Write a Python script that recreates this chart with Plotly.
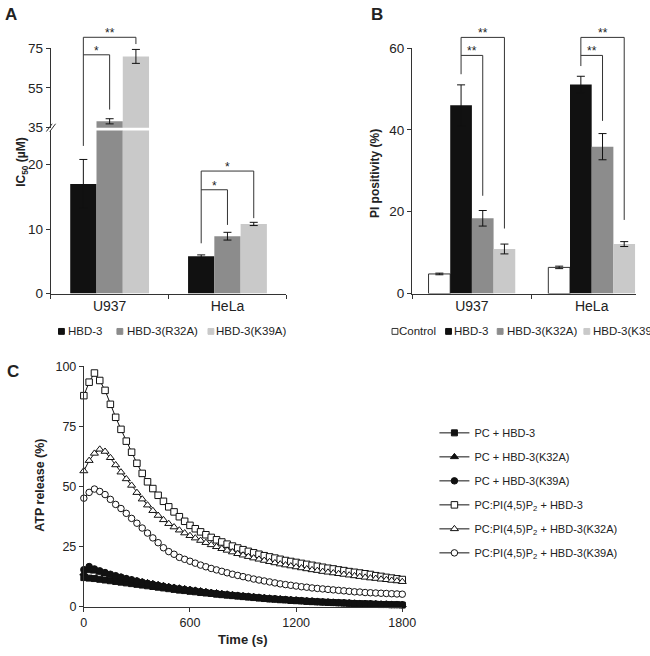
import plotly.graph_objects as go

W, H = 650, 656

# ---------------- data ----------------
cell_lines = ["U937", "HeLa"]

# Panel A: IC50 (uM)
a_hbd3 = [17.0, 5.8]
a_hbd3_err = [3.8, 0.2]
a_r32a = [38.2, 8.9]
a_r32a_err = [1.3, 0.6]
a_k39a = [70.8, 10.8]
a_k39a_err = [3.5, 0.25]
a_names = ["HBD-3", "HBD-3(R32A)", "HBD-3(K39A)"]

# Panel B: PI positivity (%)
b_control = [4.8, 6.4]
b_control_err = [0.2, 0.3]
b_hbd3 = [46.0, 51.1]
b_hbd3_err = [5.0, 2.0]
b_k32a = [18.4, 35.9]
b_k32a_err = [1.9, 3.2]
b_k39a = [10.9, 12.1]
b_k39a_err = [1.2, 0.6]
b_names = ["Control", "HBD-3", "HBD-3(K32A)", "HBD-3(K39A)"]

# Panel C: ATP release (%) sampled every 30 s
time_s = list(range(0, 1801, 30))
pc_hbd3 = [12.2, 12.0, 11.8, 11.5, 11.2, 10.9, 10.6, 10.3, 10.0, 9.7,
           9.4, 9.1, 8.8, 8.5, 8.2, 7.9, 7.6, 7.3, 7.0, 6.8,
           6.5, 6.3, 6.0, 5.8, 5.6, 5.3, 5.1, 4.9, 4.7, 4.5,
           4.3, 4.1, 3.9, 3.7, 3.5, 3.3, 3.2, 3.0, 2.9, 2.7,
           2.6, 2.5, 2.3, 2.2, 2.1, 2.0, 1.9, 1.8, 1.7, 1.6,
           1.5, 1.4, 1.3, 1.3, 1.2, 1.1, 1.0, 1.0, 0.9, 0.9, 0.8]
pc_k32a = [14.0, 15.0, 14.8, 14.3, 13.8, 13.3, 12.8, 12.3, 11.8, 11.3,
           10.8, 10.4, 10.0, 9.6, 9.2, 8.8, 8.4, 8.1, 7.8, 7.5,
           7.2, 6.9, 6.6, 6.3, 6.0, 5.8, 5.5, 5.3, 5.0, 4.8,
           4.6, 4.4, 4.2, 4.0, 3.8, 3.6, 3.4, 3.3, 3.1, 3.0,
           2.8, 2.7, 2.5, 2.4, 2.3, 2.1, 2.0, 1.9, 1.8, 1.7,
           1.6, 1.5, 1.4, 1.4, 1.3, 1.2, 1.1, 1.1, 1.0, 1.0, 0.9]
pc_k39a = [15.5, 16.8, 15.8, 15.0, 14.3, 13.6, 13.0, 12.4, 11.8, 11.3,
           10.8, 10.3, 9.8, 9.4, 9.0, 8.6, 8.2, 7.9, 7.6, 7.3,
           7.0, 6.7, 6.4, 6.1, 5.8, 5.6, 5.3, 5.1, 4.9, 4.7,
           4.5, 4.3, 4.1, 3.9, 3.7, 3.5, 3.4, 3.2, 3.1, 2.9,
           2.8, 2.6, 2.5, 2.4, 2.2, 2.1, 2.0, 1.9, 1.8, 1.7,
           1.6, 1.5, 1.4, 1.3, 1.3, 1.2, 1.1, 1.1, 1.0, 1.0, 0.9]
pip2_hbd3 = [87.8, 93.4, 97.2, 94.1, 90.0, 84.2, 78.8, 73.8, 68.9, 64.3,
             59.7, 55.5, 52.0, 49.2, 46.4, 43.9, 41.6, 39.5, 37.5, 35.6,
             33.9, 32.5, 31.2, 30.0, 28.9, 27.9, 27.0, 26.1, 25.3, 24.5,
             23.8, 23.1, 22.5, 21.9, 21.3, 20.8, 20.3, 19.8, 19.3, 18.9,
             18.5, 18.1, 17.7, 17.3, 16.9, 16.5, 16.1, 15.8, 15.4, 15.1,
             14.7, 14.4, 14.1, 13.8, 13.5, 13.0, 12.7, 12.3, 12.0, 11.7, 11.4]
pip2_k32a = [56.5, 60.8, 63.8, 65.5, 64.6, 62.0, 59.0, 56.0, 53.2, 50.5,
             47.5, 44.8, 42.3, 40.0, 38.0, 36.2, 34.6, 33.2, 31.9, 30.7,
             29.6, 28.6, 27.6, 26.7, 25.8, 25.0, 24.2, 23.5, 22.8, 22.1,
             21.5, 20.9, 20.3, 19.8, 19.3, 18.8, 18.3, 17.8, 17.4, 17.0,
             16.6, 16.2, 15.8, 15.4, 15.1, 14.7, 14.4, 14.1, 13.8, 13.5,
             13.2, 12.9, 12.6, 12.3, 12.0, 11.8, 11.5, 11.3, 11.0, 10.8, 10.5]
pip2_k39a = [45.2, 47.6, 49.0, 48.0, 46.7, 44.7, 42.6, 40.9, 38.9, 36.8,
             34.8, 32.8, 30.7, 28.7, 26.7, 24.6, 23.0, 21.9, 20.6, 19.8,
             19.0, 18.2, 17.4, 16.7, 16.0, 15.4, 14.8, 14.2, 13.6, 13.1,
             12.6, 12.1, 11.6, 11.2, 10.8, 10.4, 10.0, 9.6, 9.3, 9.0,
             8.7, 8.4, 8.2, 7.9, 7.7, 7.5, 7.3, 7.1, 6.9, 6.7,
             6.5, 6.3, 6.2, 6.0, 5.9, 5.8, 5.7, 5.6, 5.5, 5.4, 5.3]
c_names = ["PC + HBD-3", "PC + HBD-3(K32A)", "PC + HBD-3(K39A)",
           "PC:PI(4,5)P<sub>2</sub> + HBD-3",
           "PC:PI(4,5)P<sub>2</sub> + HBD-3(K32A)",
           "PC:PI(4,5)P<sub>2</sub> + HBD-3(K39A)"]

# ---------------- styling ----------------
FONT = "Arial, Liberation Sans, Helvetica, sans-serif"
TXT = "#222222"
AX = "#333333"
BLACK, GRAY, LIGHT = "#111111", "#8c8c8c", "#c9c9c9"
ERR = "#111111"


def PX(x):
    return x / W


def PY(y):
    return 1 - y / H


def ymap(v, dom, rng):
    return dom[0] + (v - rng[0]) / (rng[1] - rng[0]) * (dom[1] - dom[0])


A_xdom = [PX(49), PX(291)]
A_ydom, A_yrng = [PY(293.3), PY(126.5)], [0, (293.3 - 126.5) / 6.6]
A_y2dom, A_y2rng = [PY(123.5), PY(42)], [35, 75]
B_xdom, B_xrng = [PX(420), 1.0], [-0.5, -0.5 + 230 / 123]
B_ydom, B_yrng = [PY(293.3), PY(42)], [0, 60]
C_xdom, C_xrng = [PX(83), PX(410)], [0, 1800]
C_ydom, C_yrng = [PY(614), PY(367.7)], [0, 100]

fig = go.Figure()

# ---------------- Panel A (broken axis: y lower, y2 upper) ----------------
wA = 0.223
a_series = [(a_hbd3, a_hbd3_err, BLACK), (a_r32a, a_r32a_err, GRAY), (a_k39a, a_k39a_err, LIGHT)]
a_offsets = [-1.5 * wA, -0.5 * wA, 0.5 * wA]
for yax in ["y", "y2"]:
    for (vals, errs, col), off, nm in zip(a_series, a_offsets, a_names):
        fig.add_trace(go.Bar(
            x=cell_lines, y=vals, name=nm, width=wA, offset=off,
            marker=dict(color=col, line=dict(width=0)),
            error_y=dict(type="data", array=errs, color=ERR, thickness=1, width=4),
            xaxis="x", yaxis=yax, showlegend=False, hoverinfo="skip"))

# ---------------- Panel B ----------------
wB = 0.181
b_series = [(b_control, b_control_err, "white"), (b_hbd3, b_hbd3_err, BLACK),
            (b_k32a, b_k32a_err, GRAY), (b_k39a, b_k39a_err, LIGHT)]
b_offsets = [-2 * wB, -1 * wB, 0, wB]
for (vals, errs, col), off, nm in zip(b_series, b_offsets, b_names):
    fig.add_trace(go.Bar(
        x=cell_lines, y=vals, name=nm, width=wB, offset=off,
        marker=dict(color=col, line=dict(width=1 if col == "white" else 0, color=AX)),
        error_y=dict(type="data", array=errs, color=ERR, thickness=1, width=4),
        xaxis="x2", yaxis="y3", showlegend=False, hoverinfo="skip"))

# ---------------- Panel C ----------------
c_series = [pc_hbd3, pc_k32a, pc_k39a, pip2_hbd3, pip2_k32a, pip2_k39a]
c_symbols = ["square", "triangle-up", "circle", "square", "triangle-up", "circle"]
c_fill = [BLACK, BLACK, BLACK, "white", "white", "white"]
c_size = [6, 7, 6.5, 6.5, 7, 6.5]
for i, (vals, nm) in enumerate(zip(c_series, c_names)):
    fig.add_trace(go.Scatter(
        x=time_s, y=vals, name=nm, mode="lines+markers",
        line=dict(color=BLACK, width=1),
        marker=dict(symbol=c_symbols[i], size=c_size[i], color=c_fill[i],
                    line=dict(color=BLACK, width=1)),
        xaxis="x3", yaxis="y4", cliponaxis=False, legendgroup=f"g{i}"))


def yaxis(dom, rng, tickvals, anchor, size):
    return dict(domain=dom, range=rng, tickvals=tickvals, anchor=anchor,
                showline=True, linecolor=AX, linewidth=1, ticks="outside",
                ticklen=4, tickcolor=AX, tickfont=dict(size=size, color=TXT, family=FONT),
                showgrid=False, zeroline=False, fixedrange=True)


def xcat(dom, rng, anchor):
    return dict(domain=dom, range=rng, type="category", anchor=anchor,
                showline=True, linecolor=AX, linewidth=1, ticks="outside",
                tickson="boundaries", ticklen=4, tickcolor=AX,
                tickfont=dict(size=14, color=TXT, family=FONT),
                showgrid=False, zeroline=False, fixedrange=True)


# ---------------- brackets ----------------
shapes, annotations = [], []


def seg(xref, x0, y0, x1, y1):
    shapes.append(dict(type="line", xref=xref, yref="paper", x0=x0, y0=y0, x1=x1, y1=y1,
                       line=dict(color=AX, width=1)))


def bracket(xref, xl, xr, ytop, yl, yr, label):
    seg(xref, xl, yl, xl, ytop)
    seg(xref, xl, ytop, xr, ytop)
    seg(xref, xr, ytop, xr, yr)
    annotations.append(dict(xref=xref, yref="paper", x=(xl + xr) / 2, y=ytop, text=label,
                            showarrow=False, yanchor="bottom", yshift=-5,
                            font=dict(size=12, color=TXT, family=FONT)))


def ctr(cat, off, w):
    return cat + off + w / 2


yA = lambda v: ymap(v, A_ydom, A_yrng)
yA2 = lambda v: ymap(v, A_y2dom, A_y2rng)
yB = lambda v: ymap(v, B_ydom, B_yrng)

# A, U937
xl, xr1, xr2 = ctr(0, a_offsets[0], wA), ctr(0, a_offsets[1], wA), ctr(0, a_offsets[2], wA)
bracket("x", xl, xr2, yA2(80.4), yA(22.9), yA2(77.0), "**")
bracket("x", xl, xr1, yA2(71.6), yA2(71.6), yA2(44.1), "*")
# A, HeLa
xl, xr1, xr2 = ctr(1, a_offsets[0], wA), ctr(1, a_offsets[1], wA), ctr(1, a_offsets[2], wA)
bracket("x", xl, xr2, yA(19.0), yA(7.8), yA(11.7), "*")
bracket("x", xl, xr1, yA(16.1), yA(16.1), yA(10.65), "*")
# B
for cat, lb, r1b, r2b in [(0, 53.6, 23.9, 15.9), (1, 55.6, 42.2, 18.0)]:
    xl, xr1, xr2 = ctr(cat, b_offsets[1], wB), ctr(cat, b_offsets[2], wB), ctr(cat, b_offsets[3], wB)
    bracket("x2", xl, xr2, yB(62.6), yB(lb), yB(r2b), "**")
    bracket("x2", xl, xr1, yB(58.2), yB(58.2), yB(r1b), "**")

# axis break marks on panel A
for dx in (0, 3.5):
    shapes.append(dict(type="line", xref="paper", yref="paper",
                       x0=PX(44.5 + dx), y0=PY(127.5), x1=PX(50.5 + dx), y1=PY(119.5),
                       line=dict(color=AX, width=1)))

# ---------------- manual legends for A and B ----------------
def legend_item(cx, cy, fill, label, tx, outline=False):
    shapes.append(dict(type="rect", xref="paper", yref="paper",
                       x0=PX(cx - 3), x1=PX(cx + 3), y0=PY(cy + 3), y1=PY(cy - 3),
                       fillcolor=fill, line=dict(color=AX if outline else fill, width=1)))
    annotations.append(dict(xref="paper", yref="paper", x=PX(tx), y=PY(cy), text=label,
                            showarrow=False, xanchor="left", yanchor="middle",
                            font=dict(size=11.5, color=TXT, family=FONT)))


for cx, col, nm, tx in zip([60, 120, 213.5], [BLACK, GRAY, LIGHT], a_names, [64.5, 125, 216.5]):
    legend_item(cx, 332, col, nm, tx)
for cx, col, nm, tx in zip([402.5, 457.5, 510.5, 599.5], ["white", BLACK, GRAY, LIGHT],
                           b_names, [404.5, 461.5, 515, 603.5]):
    legend_item(cx, 332, col, nm, tx, outline=(col == "white"))

# ---------------- titles / panel letters ----------------
def text(x, y, s, size, bold=True, angle=0):
    annotations.append(dict(xref="paper", yref="paper", x=PX(x), y=PY(y),
                            text=f"<b>{s}</b>" if bold else s, textangle=angle,
                            showarrow=False, xanchor="center", yanchor="middle",
                            font=dict(size=size, color=TXT, family=FONT)))


text(8, 8, "A", 17)
text(384, 8, "B", 17)
text(10, 373, "C", 17)
text(20, 158, "IC<sub>50</sub> (µM)", 12, angle=-90)
text(382, 171, "PI positivity (%)", 12, angle=-90)
text(38, 490, "ATP release (%)", 12.5, angle=-90)
text(246, 647, "Time (s)", 13)

fig.update_layout(
    width=W, height=H, margin=dict(l=0, r=0, t=0, b=0),
    paper_bgcolor="white", plot_bgcolor="white",
    font=dict(family=FONT, color=TXT),
    barmode="overlay",
    xaxis=xcat(A_xdom, [-0.5, 1.5], "y"),
    yaxis=yaxis(A_ydom, A_yrng, [0, 10, 20], "x", 13.5),
    yaxis2=yaxis(A_y2dom, A_y2rng, [35, 55, 75], "x", 13.5),
    xaxis2=xcat(B_xdom, B_xrng, "y3"),
    yaxis3=yaxis(B_ydom, B_yrng, [0, 20, 40, 60], "x2", 13.5),
    xaxis3=dict(domain=C_xdom, range=C_xrng, anchor="y4", tickvals=[0, 600, 1200, 1800],
                showline=True, linecolor=AX, ticks="outside", ticklen=4, tickcolor=AX,
                tickfont=dict(size=12.5, color=TXT, family=FONT),
                showgrid=False, zeroline=False, fixedrange=True),
    yaxis4=yaxis(C_ydom, C_yrng, [0, 25, 50, 75, 100], "x3", 12.5),
    legend=dict(x=PX(443), y=PY(421), xanchor="left", yanchor="top",
                font=dict(size=11, color=TXT, family=FONT), bgcolor="rgba(0,0,0,0)",
                tracegroupgap=5, itemclick=False, itemdoubleclick=False),
    shapes=shapes, annotations=annotations,
    showlegend=True,
)

fig.write_html("out.html", config={"displayModeBar": False},
               post_script="document.body.style.margin='0';")
